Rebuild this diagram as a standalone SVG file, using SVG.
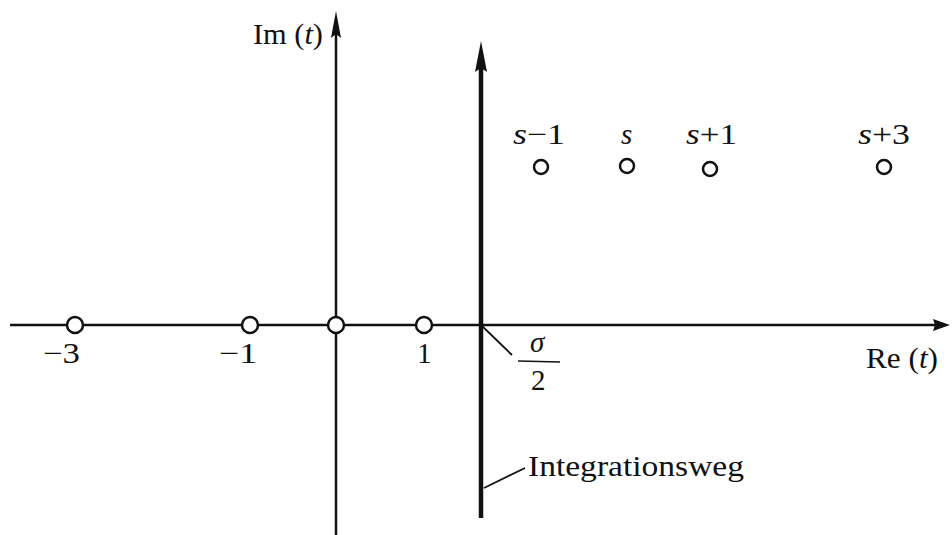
<svg xmlns="http://www.w3.org/2000/svg" width="952" height="535" viewBox="0 0 952 535">
<style>
text{font-family:"Liberation Serif","DejaVu Serif",serif;font-size:29px;fill:#111}
.i{font-style:italic}
.ax{stroke:#111;stroke-width:2.5;fill:none}
.pole{fill:#fff;stroke:#111;stroke-width:2.5}
</style>
<rect width="952" height="535" fill="#fff"/>
<g id="connectors">
<line class="ax" x1="10" y1="325" x2="938" y2="325"/>
<polygon points="950,325 933,319 935,325 933,331" fill="#111"/>
<line class="ax" x1="336" y1="535" x2="336" y2="25"/>
<polygon points="336,11 331,38 336,34 341,38" fill="#111"/>
<line x1="481" y1="518" x2="481" y2="55" stroke="#111" stroke-width="4.5"/>
<polygon points="481,41 475,72 481,68 487,72" fill="#111"/>
<line x1="481" y1="325" x2="512" y2="355" stroke="#111" stroke-width="1.8"/>
<line x1="484" y1="488" x2="525" y2="468" stroke="#111" stroke-width="1.8"/>
</g>
<g id="im-label"><text x="253" y="44" font-family="Liberation Serif, serif" textLength="70" lengthAdjust="spacingAndGlyphs">Im (<tspan class="i">t</tspan>)</text></g>
<g id="re-label"><text x="866" y="368" font-family="Liberation Serif, serif" textLength="72" lengthAdjust="spacingAndGlyphs">Re (<tspan class="i">t</tspan>)</text></g>
<g id="pole-m3"><circle class="pole" cx="75" cy="325" r="8"/><text x="43" y="363" textLength="37" lengthAdjust="spacingAndGlyphs">−3</text></g>
<g id="pole-m1"><circle class="pole" cx="250" cy="325" r="8"/><text x="219" y="363" textLength="38" lengthAdjust="spacingAndGlyphs">−1</text></g>
<g id="pole-0"><circle class="pole" cx="336" cy="325" r="8"/></g>
<g id="pole-1"><circle class="pole" cx="424" cy="325" r="8"/><text x="417" y="363">1</text></g>
<g id="sigma2"><text class="i" x="530" y="352">σ</text><line x1="518" y1="361" x2="560" y2="362" stroke="#111" stroke-width="1.5"/><text x="531" y="390">2</text></g>
<g id="pole-s-1"><circle class="pole" cx="541" cy="167" r="7"/><text x="513" y="144" textLength="52" lengthAdjust="spacingAndGlyphs"><tspan class="i">s</tspan>−1</text></g>
<g id="pole-s"><circle class="pole" cx="627" cy="166" r="7"/><text class="i" x="621" y="144">s</text></g>
<g id="pole-s+1"><circle class="pole" cx="710" cy="169" r="7"/><text x="686" y="144" textLength="51" lengthAdjust="spacingAndGlyphs"><tspan class="i">s</tspan>+1</text></g>
<g id="pole-s+3"><circle class="pole" cx="884" cy="167" r="7"/><text x="858" y="144" textLength="52" lengthAdjust="spacingAndGlyphs"><tspan class="i">s</tspan>+3</text></g>
<g id="integrationsweg"><text x="528" y="476" textLength="216" lengthAdjust="spacingAndGlyphs">Integrationsweg</text></g>
</svg>
